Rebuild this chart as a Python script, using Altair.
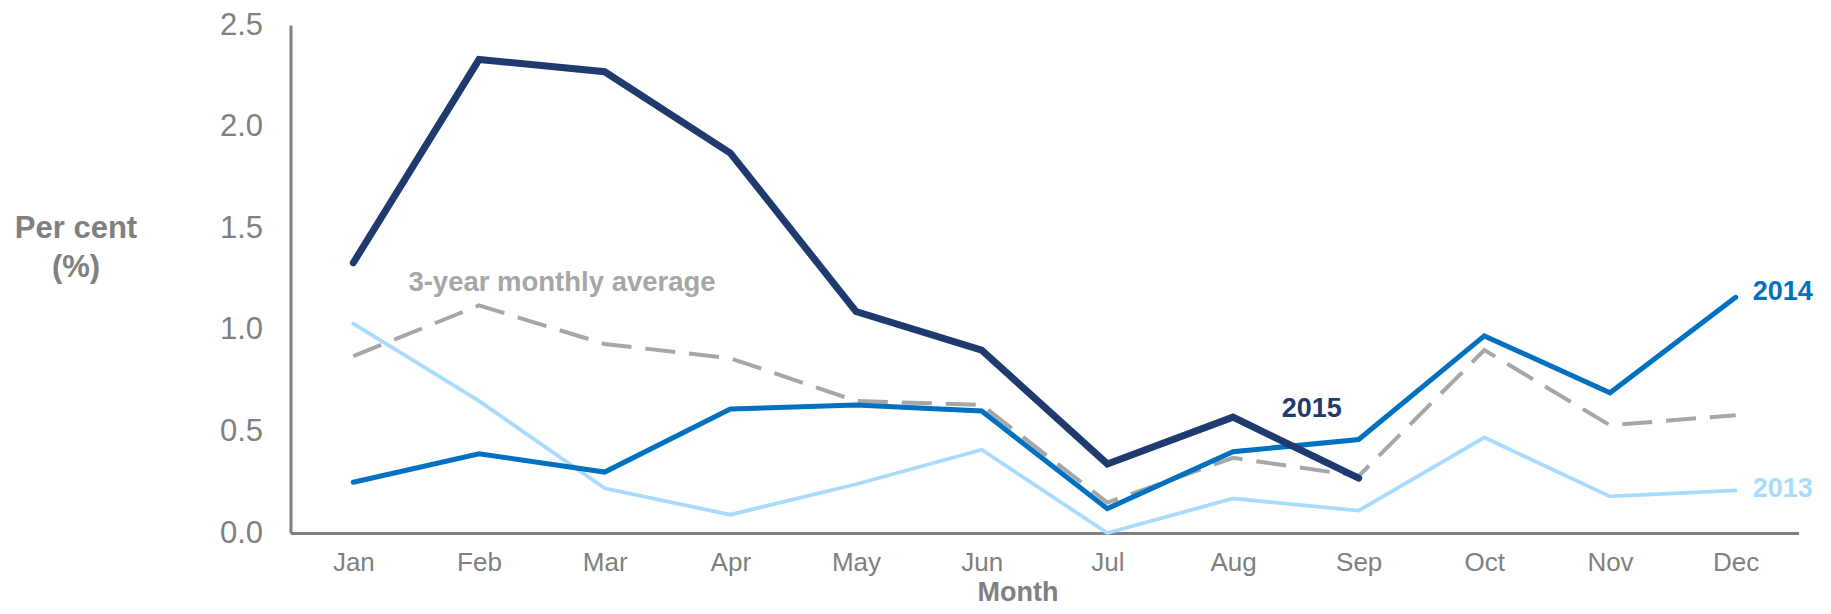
import altair as alt
import pandas as pd

months = ["Jan", "Feb", "Mar", "Apr", "May", "Jun", "Jul", "Aug", "Sep", "Oct", "Nov", "Dec"]
y2015 = [1.33, 2.33, 2.27, 1.87, 1.09, 0.90, 0.34, 0.57, 0.27]
y2014 = [0.25, 0.39, 0.30, 0.61, 0.63, 0.60, 0.12, 0.40, 0.46, 0.97, 0.69, 1.16]
y2013 = [1.03, 0.65, 0.22, 0.09, 0.24, 0.41, 0.00, 0.17, 0.11, 0.47, 0.18, 0.21]
avg3 = [0.87, 1.12, 0.93, 0.86, 0.65, 0.63, 0.15, 0.37, 0.28, 0.90, 0.53, 0.58]

label_text = ["3-year monthly average", "2015", "2014", "2013"]
label_month = ["Feb", "Sep", "Dec", "Dec"]
label_value = [1.23, 0.61, 1.16, 0.21]
label_dx = [83, -47, 17, 17]
label_dy = [0, 0, -5, -1]
label_align = ["center", "center", "left", "left"]
label_color = ["#A6A6A6", "#1F3A6E", "#0070C0", "#A9DBFF"]
label_size = [27.5, 27, 27, 27]

FONT = "Liberation Sans"
GRAY = "#808080"


def frame(vals):
    return pd.DataFrame({"month": months[: len(vals)], "value": vals})


x_enc = alt.X(
    "month:N",
    sort=months,
    scale=alt.Scale(type="point", padding=0.5),
    axis=alt.Axis(
        title="Month",
        titleFont=FONT,
        titleFontSize=27,
        titleFontWeight="bold",
        titleColor=GRAY,
        titleX=727,
        titleY=67,
        titleAlign="center",
        titleBaseline="alphabetic",
        labelFont=FONT,
        labelFontSize=26,
        labelColor=GRAY,
        labelAngle=0,
        labelBaseline="alphabetic",
        labelPadding=37,
        ticks=False,
        domainColor=GRAY,
        domainWidth=3,
        grid=False,
    ),
)
y_enc = alt.Y(
    "value:Q",
    scale=alt.Scale(domain=[0, 2.5], nice=False),
    axis=alt.Axis(
        values=[0, 0.5, 1.0, 1.5, 2.0, 2.5],
        format=".1f",
        title=["Per cent", "(%)"],
        titleFont=FONT,
        titleFontSize=31,
        titleFontWeight="bold",
        titleColor=GRAY,
        titleAngle=0,
        titleX=-215,
        titleY=212,
        titleAlign="center",
        titleBaseline="alphabetic",
        titleLineHeight=39,
        labelFont=FONT,
        labelFontSize=31,
        labelColor=GRAY,
        labelPadding=28,
        ticks=False,
        domainColor=GRAY,
        domainWidth=3,
        grid=False,
    ),
)


def line(vals, color, width, dash=None, cap="round"):
    kw = dict(color=color, strokeWidth=width, strokeCap=cap)
    if dash:
        kw["strokeDash"] = dash
    return alt.Chart(frame(vals)).mark_line(**kw).encode(x=x_enc, y=y_enc)


l2013 = line(y2013, "#A9DBFF", 3.8)
lavg = line(avg3, "#A6A6A6", 4, dash=[30, 14], cap="butt")
l2014 = line(y2014, "#0070C0", 5)
l2015 = line(y2015, "#1F3A6E", 7)

labels = []
for t, m, v, dx, dy, al, c, s in zip(label_text, label_month, label_value, label_dx, label_dy,
                                     label_align, label_color, label_size):
    df = pd.DataFrame({"month": [m], "value": [v], "text": [t]})
    labels.append(
        alt.Chart(df)
        .mark_text(font=FONT, fontWeight="bold", fontSize=s, color=c, dx=dx, dy=dy,
                   align=al, baseline="middle")
        .encode(x=alt.X("month:N", sort=months), y="value:Q", text="text:N")
    )

chart = (
    alt.layer(l2013, lavg, l2014, l2015, *labels)
    .properties(
        width=1508,
        height=508,
        autosize="none",
        padding={"left": 282.5, "top": 17, "right": 24, "bottom": 73},
    )
    .configure_view(stroke=None)
)

chart.save("out.html", embed_options={"renderer": "svg", "actions": False})
